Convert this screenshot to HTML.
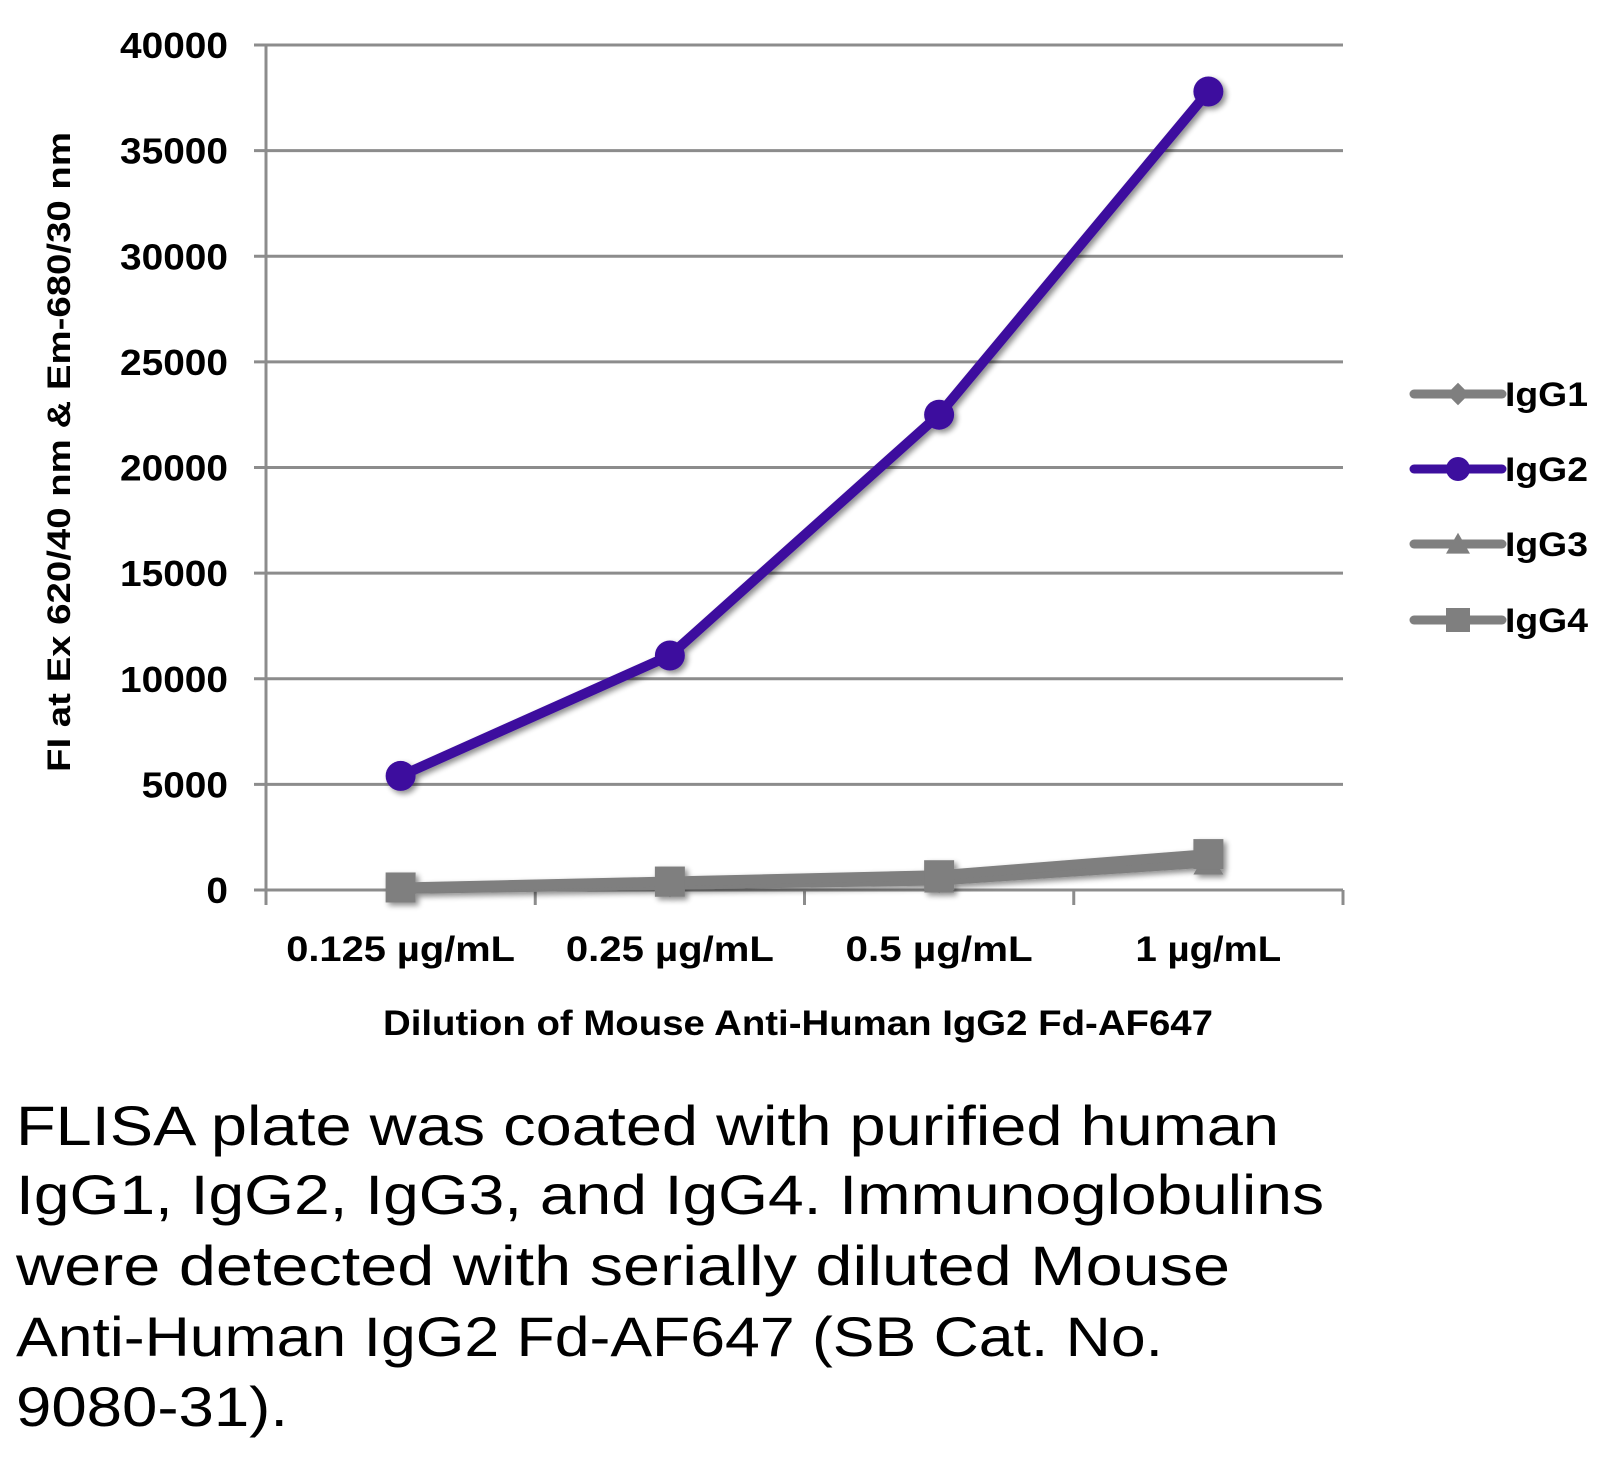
<!DOCTYPE html>
<html><head><meta charset="utf-8"><style>
html,body{margin:0;padding:0;background:#fff;}
svg{display:block;font-family:"Liberation Sans",sans-serif;}
</style></head><body>
<svg id="chart" width="1621" height="1457" viewBox="0 0 1621 1457" xmlns="http://www.w3.org/2000/svg">
<defs><filter id="sh" x="-10%" y="-10%" width="130%" height="130%"><feGaussianBlur in="SourceAlpha" stdDeviation="3"/><feOffset dx="3" dy="3"/><feComponentTransfer><feFuncA type="linear" slope="0.45"/></feComponentTransfer><feMerge><feMergeNode/><feMergeNode in="SourceGraphic"/></feMerge></filter></defs>
<g id="grid"></g>
<g id="yticks"></g>
<g id="xticks"></g>
<g id="series" filter="url(#sh)"></g>
<text transform="translate(70,452) rotate(-90)" text-anchor="middle" font-size="32" font-weight="bold" textLength="640" lengthAdjust="spacingAndGlyphs">FI at Ex 620/40 nm &amp; Em-680/30 nm</text>
<text x="798" y="1035" text-anchor="middle" font-size="35" font-weight="bold" textLength="830" lengthAdjust="spacingAndGlyphs">Dilution of Mouse Anti-Human IgG2 Fd-AF647</text>
<g id="legend"></g>
<g font-size="56">
<text x="16" y="1145" textLength="1263" lengthAdjust="spacingAndGlyphs">FLISA plate was coated with purified human</text>
<text x="16" y="1214" textLength="1308" lengthAdjust="spacingAndGlyphs">IgG1, IgG2, IgG3, and IgG4.  Immunoglobulins</text>
<text x="16" y="1285" textLength="1214" lengthAdjust="spacingAndGlyphs">were detected with serially diluted Mouse</text>
<text x="16" y="1356" textLength="1147" lengthAdjust="spacingAndGlyphs">Anti-Human IgG2 Fd-AF647 (SB Cat. No.</text>
<text x="16" y="1426" textLength="272" lengthAdjust="spacingAndGlyphs">9080-31).</text>
</g>
</svg>
<script>
const categories = ["0.125 µg/mL","0.25 µg/mL","0.5 µg/mL","1 µg/mL"];
const yTicks = [0,5000,10000,15000,20000,25000,30000,35000,40000];
const seriesNames = ["IgG1","IgG2","IgG3","IgG4"];
const igg1 = [100,300,500,1400];
const igg2 = [5400,11100,22500,37800];
const igg3 = [50,250,450,1300];
const igg4 = [120,400,700,1700];
const NS="http://www.w3.org/2000/svg";
const X0=266,X1=1343,Y0=890,Y1=45,YMAX=40000;
const bw=(X1-X0)/categories.length;
const xs=i=>X0+bw*(i+0.5);
const ys=v=>Y0-(v/YMAX)*(Y0-Y1);
function mk(tag,attrs,parent){const e=document.createElementNS(NS,tag);for(const k in attrs)e.setAttribute(k,attrs[k]);parent.appendChild(e);return e;}
const grid=document.getElementById('grid'),yt=document.getElementById('yticks'),xt=document.getElementById('xticks');
yTicks.forEach(v=>{
 const l=mk('line',{x1:X0-12,x2:X1,y1:ys(v),y2:ys(v),stroke:'#8c8c8c','stroke-width':3},grid);
 
 
 const s=String(v);
 const t=mk('text',{x:228,y:ys(v)+13,'text-anchor':'end','font-size':36,'font-weight':'bold',textLength:21.6*s.length,lengthAdjust:'spacingAndGlyphs'},yt);
 t.textContent=s;
 
 
});
const ax=mk('line',{x1:X0,x2:X0,y1:Y1,y2:Y0+15,stroke:'#8c8c8c','stroke-width':3},grid);


for(let i=0;i<=categories.length;i++){
 const tk=mk('line',{x1:X0+bw*i,x2:X0+bw*i,y1:Y0,y2:Y0+15,stroke:'#8c8c8c','stroke-width':3},grid);
 
 
}
categories.forEach((c,i)=>{
 const t=mk('text',{x:xs(i),y:961,'text-anchor':'middle','font-size':35,'font-weight':'bold',textLength:20.8*c.length,lengthAdjust:'spacingAndGlyphs'},xt);
 t.textContent=c;
 
 
});
const sg=document.getElementById('series');
const data=[igg1,igg2,igg3,igg4];
const colors=['#7f7f7f','#3d0f9e','#7f7f7f','#7f7f7f'];
const order=[0,2,3,1];
function marker(k,x,y,p,big){
 const s=big?1:0.8;let m;
 if(k===1)m=mk('circle',{cx:x,cy:y,r:15*s,fill:colors[k]},p);
 else if(k===0)m=mk('polygon',{points:`${x},${y-14*s} ${x+14*s},${y} ${x},${y+14*s} ${x-14*s},${y}`,fill:colors[k]},p);
 else if(k===2)m=mk('polygon',{points:`${x},${y-14*s} ${x+15*s},${y+12*s} ${x-15*s},${y+12*s}`,fill:colors[k]},p);
 else m=mk('rect',{x:x-15*s,y:y-15*s,width:30*s,height:30*s,fill:colors[k]},p);
 return m;
}
order.forEach(k=>{
 const vals=data[k];
 const pl=mk('polyline',{points:vals.map((v,i)=>xs(i)+','+ys(v)).join(' '),fill:'none',stroke:colors[k],'stroke-width':10,'stroke-linejoin':'round'},sg);
 
 
 vals.forEach((v,i)=>{
  const m=marker(k,xs(i),ys(v),sg,true);
  
  
 });
});
const lg=document.getElementById('legend');
const ly=[394,469,544,620];
seriesNames.forEach((n,k)=>{
 const l=mk('line',{x1:1414,x2:1502,y1:ly[k],y2:ly[k],stroke:colors[k],'stroke-width':k===1?9:9,'stroke-linecap':'round'},lg);
 
 
 const m=marker(k,1458,ly[k],lg,false);
 
 
 const t=mk('text',{x:1505,y:ly[k]+12,'font-size':34,'font-weight':'bold',textLength:83,lengthAdjust:'spacingAndGlyphs'},lg);
 t.textContent=n;
 
 
});
</script>
</body></html>
